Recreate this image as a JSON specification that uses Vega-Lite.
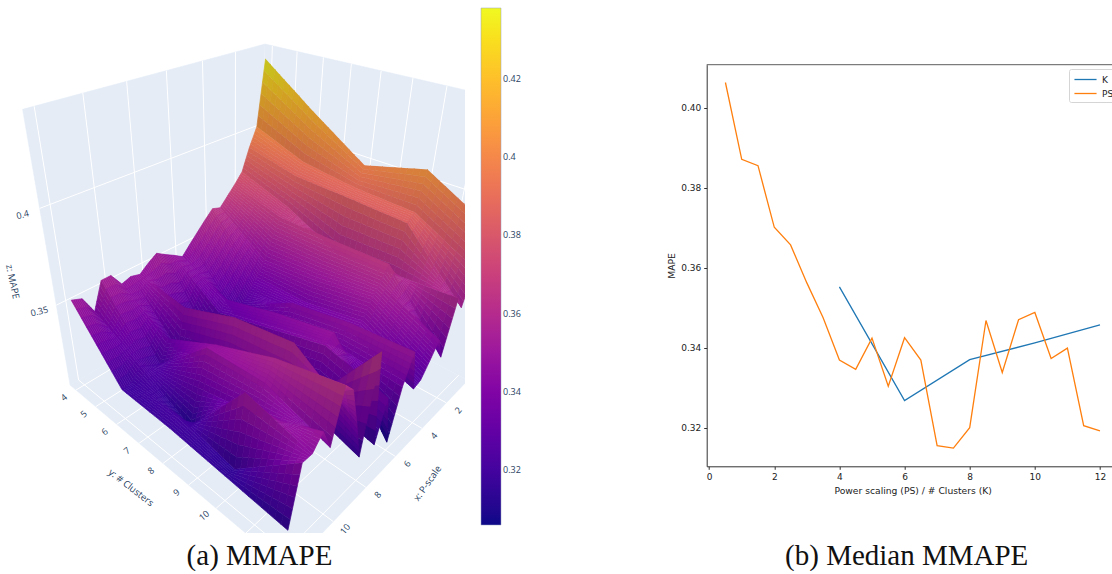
{"$schema":"https://vega.github.io/schema/vega-lite/v6.json","padding":0,"background":"white","bounds":"flush","spacing":241.7,"config":{"view":{"stroke":null}},
"datasets":{
"surface":[
{"p":0.5,"k":4,"z":0.4373},{"p":0.5,"k":6,"z":0.417},{"p":0.5,"k":8,"z":0.398},{"p":0.5,"k":10,"z":0.406},{"p":0.5,"k":12,"z":0.389},
{"p":1,"k":4,"z":0.4022},{"p":1,"k":6,"z":0.3916},{"p":1,"k":8,"z":0.3878},{"p":1,"k":10,"z":0.3865},{"p":1,"k":12,"z":0.37},
{"p":1.5,"k":4,"z":0.392},{"p":1.5,"k":6,"z":0.3855},{"p":1.5,"k":8,"z":0.3845},{"p":1.5,"k":10,"z":0.383},{"p":1.5,"k":12,"z":0.352},
{"p":2,"k":4,"z":0.3795},{"p":2,"k":6,"z":0.37},{"p":2,"k":8,"z":0.356},{"p":2,"k":10,"z":0.358},{"p":2,"k":12,"z":0.36},
{"p":2.5,"k":4,"z":0.374},{"p":2.5,"k":6,"z":0.366},{"p":2.5,"k":8,"z":0.3657},{"p":2.5,"k":10,"z":0.366},{"p":2.5,"k":12,"z":0.33},
{"p":3,"k":4,"z":0.369},{"p":3,"k":6,"z":0.356},{"p":3,"k":8,"z":0.3562},{"p":3,"k":10,"z":0.358},{"p":3,"k":12,"z":0.3433},
{"p":3.5,"k":4,"z":0.364},{"p":3.5,"k":6,"z":0.345},{"p":3.5,"k":8,"z":0.3475},{"p":3.5,"k":10,"z":0.352},{"p":3.5,"k":12,"z":0.335},
{"p":4,"k":4,"z":0.3656},{"p":4,"k":6,"z":0.337},{"p":4,"k":8,"z":0.337},{"p":4,"k":10,"z":0.343},{"p":4,"k":12,"z":0.3273},
{"p":4.5,"k":4,"z":0.361},{"p":4.5,"k":6,"z":0.331},{"p":4.5,"k":8,"z":0.3346},{"p":4.5,"k":10,"z":0.338},{"p":4.5,"k":12,"z":0.3258},
{"p":5,"k":4,"z":0.356},{"p":5,"k":6,"z":0.325},{"p":5,"k":8,"z":0.3424},{"p":5,"k":10,"z":0.348},{"p":5,"k":12,"z":0.3503},
{"p":5.5,"k":4,"z":0.351},{"p":5.5,"k":6,"z":0.322},{"p":5.5,"k":8,"z":0.3304},{"p":5.5,"k":10,"z":0.337},{"p":5.5,"k":12,"z":0.3346},
{"p":6,"k":4,"z":0.3457},{"p":6,"k":6,"z":0.334},{"p":6,"k":8,"z":0.3425},{"p":6,"k":10,"z":0.349},{"p":6,"k":12,"z":0.306},
{"p":6.5,"k":4,"z":0.349},{"p":6.5,"k":6,"z":0.329},{"p":6.5,"k":8,"z":0.3369},{"p":6.5,"k":10,"z":0.345},{"p":6.5,"k":12,"z":0.3362},
{"p":7,"k":4,"z":0.352},{"p":7,"k":6,"z":0.309},{"p":7,"k":8,"z":0.3155},{"p":7,"k":10,"z":0.321},{"p":7,"k":12,"z":0.3134},
{"p":7.5,"k":4,"z":0.3553},{"p":7.5,"k":6,"z":0.31},{"p":7.5,"k":8,"z":0.3149},{"p":7.5,"k":10,"z":0.32},{"p":7.5,"k":12,"z":0.3676},
{"p":8,"k":4,"z":0.352},{"p":8,"k":6,"z":0.318},{"p":8,"k":8,"z":0.32},{"p":8,"k":10,"z":0.326},{"p":8,"k":12,"z":0.3152},
{"p":8.5,"k":4,"z":0.348},{"p":8.5,"k":6,"z":0.344},{"p":8.5,"k":8,"z":0.3553},{"p":8.5,"k":10,"z":0.36},{"p":8.5,"k":12,"z":0.339},
{"p":9,"k":4,"z":0.3494},{"p":9,"k":6,"z":0.322},{"p":9,"k":8,"z":0.331},{"p":9,"k":10,"z":0.3338},{"p":9,"k":12,"z":0.36},
{"p":9.5,"k":4,"z":0.3477},{"p":9.5,"k":6,"z":0.332},{"p":9.5,"k":8,"z":0.347},{"p":9.5,"k":10,"z":0.359},{"p":9.5,"k":12,"z":0.366},
{"p":10,"k":4,"z":0.3554},{"p":10,"k":6,"z":0.32},{"p":10,"k":8,"z":0.3488},{"p":10,"k":10,"z":0.35},{"p":10,"k":12,"z":0.339},
{"p":10.5,"k":4,"z":0.3553},{"p":10.5,"k":6,"z":0.3225},{"p":10.5,"k":8,"z":0.33},{"p":10.5,"k":10,"z":0.3373},{"p":10.5,"k":12,"z":0.3516},
{"p":11,"k":4,"z":0.3402},{"p":11,"k":6,"z":0.326},{"p":11,"k":8,"z":0.311},{"p":11,"k":10,"z":0.3526},{"p":11,"k":12,"z":0.3449},
{"p":11.5,"k":4,"z":0.3506},{"p":11.5,"k":6,"z":0.3195},{"p":11.5,"k":8,"z":0.3215},{"p":11.5,"k":10,"z":0.315},{"p":11.5,"k":12,"z":0.345},
{"p":12,"k":4,"z":0.3527},{"p":12,"k":6,"z":0.3192},{"p":12,"k":8,"z":0.3185},{"p":12,"k":10,"z":0.316},{"p":12,"k":12,"z":0.3135}
],
"frame":[
{"kind":"wall","id":"a","o":0,"p":0.054,"k":3.69,"z":0.301},{"kind":"wall","id":"a","o":1,"p":12.446,"k":3.69,"z":0.301},{"kind":"wall","id":"a","o":2,"p":12.446,"k":3.69,"z":0.443},{"kind":"wall","id":"a","o":3,"p":0.054,"k":3.69,"z":0.443},
{"kind":"wall","id":"b","o":0,"p":0.054,"k":3.69,"z":0.301},{"kind":"wall","id":"b","o":1,"p":0.054,"k":12.31,"z":0.301},{"kind":"wall","id":"b","o":2,"p":0.054,"k":12.31,"z":0.443},{"kind":"wall","id":"b","o":3,"p":0.054,"k":3.69,"z":0.443},
{"kind":"wall","id":"c","o":0,"p":0.054,"k":3.69,"z":0.301},{"kind":"wall","id":"c","o":1,"p":12.446,"k":3.69,"z":0.301},{"kind":"wall","id":"c","o":2,"p":12.446,"k":12.31,"z":0.301},{"kind":"wall","id":"c","o":3,"p":0.054,"k":12.31,"z":0.301},
{"kind":"grid","id":"a2","o":0,"p":2,"k":3.69,"z":0.301},{"kind":"grid","id":"a2","o":1,"p":2,"k":3.69,"z":0.443},
{"kind":"grid","id":"a4","o":0,"p":4,"k":3.69,"z":0.301},{"kind":"grid","id":"a4","o":1,"p":4,"k":3.69,"z":0.443},
{"kind":"grid","id":"a6","o":0,"p":6,"k":3.69,"z":0.301},{"kind":"grid","id":"a6","o":1,"p":6,"k":3.69,"z":0.443},
{"kind":"grid","id":"a8","o":0,"p":8,"k":3.69,"z":0.301},{"kind":"grid","id":"a8","o":1,"p":8,"k":3.69,"z":0.443},
{"kind":"grid","id":"a10","o":0,"p":10,"k":3.69,"z":0.301},{"kind":"grid","id":"a10","o":1,"p":10,"k":3.69,"z":0.443},
{"kind":"grid","id":"a12","o":0,"p":12,"k":3.69,"z":0.301},{"kind":"grid","id":"a12","o":1,"p":12,"k":3.69,"z":0.443},
{"kind":"grid","id":"az1","o":0,"p":0.054,"k":3.69,"z":0.35},{"kind":"grid","id":"az1","o":1,"p":12.446,"k":3.69,"z":0.35},
{"kind":"grid","id":"az2","o":0,"p":0.054,"k":3.69,"z":0.4},{"kind":"grid","id":"az2","o":1,"p":12.446,"k":3.69,"z":0.4},
{"kind":"grid","id":"b4","o":0,"p":0.054,"k":4,"z":0.301},{"kind":"grid","id":"b4","o":1,"p":0.054,"k":4,"z":0.443},
{"kind":"grid","id":"b5","o":0,"p":0.054,"k":5,"z":0.301},{"kind":"grid","id":"b5","o":1,"p":0.054,"k":5,"z":0.443},
{"kind":"grid","id":"b6","o":0,"p":0.054,"k":6,"z":0.301},{"kind":"grid","id":"b6","o":1,"p":0.054,"k":6,"z":0.443},
{"kind":"grid","id":"b7","o":0,"p":0.054,"k":7,"z":0.301},{"kind":"grid","id":"b7","o":1,"p":0.054,"k":7,"z":0.443},
{"kind":"grid","id":"b8","o":0,"p":0.054,"k":8,"z":0.301},{"kind":"grid","id":"b8","o":1,"p":0.054,"k":8,"z":0.443},
{"kind":"grid","id":"b9","o":0,"p":0.054,"k":9,"z":0.301},{"kind":"grid","id":"b9","o":1,"p":0.054,"k":9,"z":0.443},
{"kind":"grid","id":"b10","o":0,"p":0.054,"k":10,"z":0.301},{"kind":"grid","id":"b10","o":1,"p":0.054,"k":10,"z":0.443},
{"kind":"grid","id":"b11","o":0,"p":0.054,"k":11,"z":0.301},{"kind":"grid","id":"b11","o":1,"p":0.054,"k":11,"z":0.443},
{"kind":"grid","id":"bz1","o":0,"p":0.054,"k":3.69,"z":0.35},{"kind":"grid","id":"bz1","o":1,"p":0.054,"k":12.31,"z":0.35},
{"kind":"grid","id":"bz2","o":0,"p":0.054,"k":3.69,"z":0.4},{"kind":"grid","id":"bz2","o":1,"p":0.054,"k":12.31,"z":0.4},
{"kind":"grid","id":"c2","o":0,"p":2,"k":3.69,"z":0.301},{"kind":"grid","id":"c2","o":1,"p":2,"k":12.31,"z":0.301},
{"kind":"grid","id":"c4","o":0,"p":4,"k":3.69,"z":0.301},{"kind":"grid","id":"c4","o":1,"p":4,"k":12.31,"z":0.301},
{"kind":"grid","id":"c6","o":0,"p":6,"k":3.69,"z":0.301},{"kind":"grid","id":"c6","o":1,"p":6,"k":12.31,"z":0.301},
{"kind":"grid","id":"c8","o":0,"p":8,"k":3.69,"z":0.301},{"kind":"grid","id":"c8","o":1,"p":8,"k":12.31,"z":0.301},
{"kind":"grid","id":"c10","o":0,"p":10,"k":3.69,"z":0.301},{"kind":"grid","id":"c10","o":1,"p":10,"k":12.31,"z":0.301},
{"kind":"grid","id":"c12","o":0,"p":12,"k":3.69,"z":0.301},{"kind":"grid","id":"c12","o":1,"p":12,"k":12.31,"z":0.301},
{"kind":"grid","id":"d4","o":0,"p":0.054,"k":4,"z":0.301},{"kind":"grid","id":"d4","o":1,"p":12.446,"k":4,"z":0.301},
{"kind":"grid","id":"d5","o":0,"p":0.054,"k":5,"z":0.301},{"kind":"grid","id":"d5","o":1,"p":12.446,"k":5,"z":0.301},
{"kind":"grid","id":"d6","o":0,"p":0.054,"k":6,"z":0.301},{"kind":"grid","id":"d6","o":1,"p":12.446,"k":6,"z":0.301},
{"kind":"grid","id":"d7","o":0,"p":0.054,"k":7,"z":0.301},{"kind":"grid","id":"d7","o":1,"p":12.446,"k":7,"z":0.301},
{"kind":"grid","id":"d8","o":0,"p":0.054,"k":8,"z":0.301},{"kind":"grid","id":"d8","o":1,"p":12.446,"k":8,"z":0.301},
{"kind":"grid","id":"d9","o":0,"p":0.054,"k":9,"z":0.301},{"kind":"grid","id":"d9","o":1,"p":12.446,"k":9,"z":0.301},
{"kind":"grid","id":"d10","o":0,"p":0.054,"k":10,"z":0.301},{"kind":"grid","id":"d10","o":1,"p":12.446,"k":10,"z":0.301},
{"kind":"grid","id":"d11","o":0,"p":0.054,"k":11,"z":0.301},{"kind":"grid","id":"d11","o":1,"p":12.446,"k":11,"z":0.301},
{"kind":"grid","id":"d12","o":0,"p":0.054,"k":12,"z":0.301},{"kind":"grid","id":"d12","o":1,"p":12.446,"k":12,"z":0.301},
{"kind":"ztick","label":"0.35","p":12.446,"k":3.69,"z":0.35},{"kind":"ztick","label":"0.4","p":12.446,"k":3.69,"z":0.4},
{"kind":"ktick","label":"4","p":12.446,"k":4,"z":0.301},{"kind":"ktick","label":"5","p":12.446,"k":5,"z":0.301},{"kind":"ktick","label":"6","p":12.446,"k":6,"z":0.301},{"kind":"ktick","label":"7","p":12.446,"k":7,"z":0.301},{"kind":"ktick","label":"8","p":12.446,"k":8,"z":0.301},{"kind":"ktick","label":"9","p":12.446,"k":9,"z":0.301},{"kind":"ktick","label":"10","p":12.446,"k":10,"z":0.301},
{"kind":"ptick","label":"2","p":2,"k":12.31,"z":0.301},{"kind":"ptick","label":"4","p":4,"k":12.31,"z":0.301},{"kind":"ptick","label":"6","p":6,"k":12.31,"z":0.301},{"kind":"ptick","label":"8","p":8,"k":12.31,"z":0.301},{"kind":"ptick","label":"10","p":10,"k":12.31,"z":0.301},
{"kind":"ztitle","label":"z: MAPE","p":12.446,"k":3.69,"z":0.35},
{"kind":"ytitle","label":"y: # Clusters","p":12.446,"k":7,"z":0.301},
{"kind":"xtitle","label":"x: P-scale","p":7,"k":12.31,"z":0.301}
],
"medians":[
{"v":4,"mape":0.3552,"series":"K"},{"v":6,"mape":0.3268,"series":"K"},{"v":8,"mape":0.337,"series":"K"},{"v":10,"mape":0.3412,"series":"K"},{"v":12,"mape":0.3457,"series":"K"},
{"v":0.5,"mape":0.4063,"series":"PS"},{"v":1,"mape":0.3871,"series":"PS"},{"v":1.5,"mape":0.3855,"series":"PS"},{"v":2,"mape":0.3701,"series":"PS"},{"v":2.5,"mape":0.3657,"series":"PS"},{"v":3,"mape":0.3562,"series":"PS"},{"v":3.5,"mape":0.3475,"series":"PS"},{"v":4,"mape":0.3369,"series":"PS"},{"v":4.5,"mape":0.3346,"series":"PS"},{"v":5,"mape":0.3424,"series":"PS"},{"v":5.5,"mape":0.3304,"series":"PS"},{"v":6,"mape":0.3425,"series":"PS"},{"v":6.5,"mape":0.3369,"series":"PS"},{"v":7,"mape":0.3155,"series":"PS"},{"v":7.5,"mape":0.3149,"series":"PS"},{"v":8,"mape":0.32,"series":"PS"},{"v":8.5,"mape":0.3468,"series":"PS"},{"v":9,"mape":0.3338,"series":"PS"},{"v":9.5,"mape":0.347,"series":"PS"},{"v":10,"mape":0.3488,"series":"PS"},{"v":10.5,"mape":0.3373,"series":"PS"},{"v":11,"mape":0.3399,"series":"PS"},{"v":11.5,"mape":0.3205,"series":"PS"},{"v":12,"mape":0.3192,"series":"PS"}
],
"top":[{"mape":0.41075}]
},
"hconcat":[
{"width":465,"height":533,
"title":{"text":"(a) MMAPE","orient":"bottom","anchor":"middle","dx":27,"offset":9,"font":"Liberation Serif","fontSize":29,"fontWeight":"normal","color":"#111111"},
"data":{"name":"frame"},
"transform":[
{"calculate":"0.0807*datum.p-0.00435","as":"u"},{"calculate":"0.116*datum.k-0.428","as":"v"},{"calculate":"(datum.z-0.301)/0.142","as":"w"},
{"calculate":"1-0.2108*datum.u-0.2032*datum.v-0.178*datum.w","as":"d"},
{"calculate":"(259.3-204*datum.u+113.6*datum.v-41.5*datum.w)/datum.d","as":"px"},
{"calculate":"(273.3+30.6*datum.u+29.5*datum.v-237.1*datum.w)/datum.d","as":"py"}],
"encoding":{
"x":{"field":"px","type":"quantitative","scale":{"domain":[0,465],"nice":false,"zero":false},"axis":null},
"y":{"field":"py","type":"quantitative","scale":{"domain":[533,0],"nice":false,"zero":false},"axis":null}},
"layer":[
{"transform":[{"filter":"datum.kind==='wall'"}],"mark":{"type":"line","filled":true,"clip":true,"fill":"#E5ECF6","stroke":"#E5ECF6","strokeWidth":0.5},"encoding":{"detail":{"field":"id"},"order":{"field":"o","type":"quantitative"}}},
{"transform":[{"filter":"datum.kind==='grid'"}],"mark":{"type":"line","clip":true,"stroke":"#ffffff","strokeWidth":1},"encoding":{"detail":{"field":"id"},"order":{"field":"o","type":"quantitative"}}},
{"data":{"name":"surface"},
"transform":[
{"calculate":"(datum.p-0.5)*2","as":"i"},{"calculate":"(datum.k-4)/2","as":"j"},
{"calculate":"[0,1,2,3]","as":"corner"},{"flatten":["corner"]},
{"calculate":"datum.i-((datum.corner==1||datum.corner==2)?1:0)","as":"qi"},
{"calculate":"datum.j-(datum.corner>=2?1:0)","as":"qj"},
{"filter":"datum.qi>=0&&datum.qi<23&&datum.qj>=0&&datum.qj<4"},
{"pivot":"corner","value":"z","groupby":["qi","qj"]},
{"calculate":"[0,1,2,3,4,5]","as":"ss"},{"flatten":["ss"]},
{"calculate":"[0,1,2,3,4,5,6,7,8,9]","as":"tt"},{"flatten":["tt"]},
{"calculate":"(datum.ss+0.5)/6","as":"sm"},{"calculate":"(datum.tt+0.5)/10","as":"tm"},
{"calculate":"(1-datum.sm)*(1-datum.tm)*datum['0']+datum.sm*(1-datum.tm)*datum['1']+datum.sm*datum.tm*datum['2']+(1-datum.sm)*datum.tm*datum['3']","as":"zc"},
{"calculate":"((1-datum.tm)*(datum['1']-datum['0'])+datum.tm*(datum['2']-datum['3']))/0.142/0.04035","as":"wu"},
{"calculate":"((1-datum.sm)*(datum['3']-datum['0'])+datum.sm*(datum['2']-datum['1']))/0.142/0.232","as":"wv"},
{"calculate":"0.74+0.26/sqrt(1+datum.wu*datum.wu/4+datum.wv*datum.wv/4)","as":"sh"},
{"calculate":"clamp((datum.zc-0.306)/0.132,0,0.9999)*9","as":"ct"},
{"calculate":"floor(datum.ct)","as":"ci"},{"calculate":"datum.ct-datum.ci","as":"cf"},
{"calculate":"'rgb('+round(datum.sh*([13,70,114,156,189,216,237,251,253,240][datum.ci]*(1-datum.cf)+[13,70,114,156,189,216,237,251,253,240][datum.ci+1]*datum.cf))+','+round(datum.sh*([8,3,1,23,55,87,121,159,202,249][datum.ci]*(1-datum.cf)+[8,3,1,23,55,87,121,159,202,249][datum.ci+1]*datum.cf))+','+round(datum.sh*([135,159,168,158,134,107,83,58,38,33][datum.ci]*(1-datum.cf)+[135,159,168,158,134,107,83,58,38,33][datum.ci+1]*datum.cf))+')'","as":"col"},
{"calculate":"'q'+datum.qi+'_'+datum.qj+'_'+datum.ss+'_'+datum.tt","as":"id"},
{"calculate":"[0,1,2,3]","as":"cc"},{"flatten":["cc"]},
{"calculate":"(datum.ss+((datum.cc==1||datum.cc==2)?1:0))/6","as":"s"},
{"calculate":"(datum.tt+(datum.cc>=2?1:0))/10","as":"t"},
{"calculate":"(1-datum.s)*(1-datum.t)*datum['0']+datum.s*(1-datum.t)*datum['1']+datum.s*datum.t*datum['2']+(1-datum.s)*datum.t*datum['3']","as":"zv"},
{"calculate":"0.0807*(0.5+(datum.qi+datum.s)*0.5)-0.00435","as":"u"},
{"calculate":"0.116*(4+(datum.qj+datum.t)*2)-0.428","as":"v"},
{"calculate":"(datum.zv-0.301)/0.142","as":"w"},
{"calculate":"1-0.2108*datum.u-0.2032*datum.v-0.178*datum.w","as":"d"},
{"calculate":"(259.3-204*datum.u+113.6*datum.v-41.5*datum.w)/datum.d","as":"px"},
{"calculate":"(273.3+30.6*datum.u+29.5*datum.v-237.1*datum.w)/datum.d","as":"py"}],
"mark":{"type":"line","filled":true,"clip":true,"strokeWidth":0.7},
"encoding":{"detail":{"field":"id"},"order":{"field":"cc","type":"quantitative"},
"fill":{"field":"col","type":"nominal","scale":null,"legend":null},
"stroke":{"field":"col","type":"nominal","scale":null,"legend":null}}},
{"data":{"name":"surface"},"mark":{"type":"point","filled":true,"opacity":0,"size":1},
"encoding":{"x":{"datum":10},"y":{"datum":10},
"fill":{"field":"z","type":"quantitative","scale":{"domain":[0.306,0.438],"range":["#0d0887","#46039f","#7201a8","#9c179e","#bd3786","#d8576b","#ed7953","#fb9f3a","#fdca26","#f0f921"]},
"legend":{"type":"gradient","orient":"none","legendX":481,"legendY":8,"gradientLength":517,"gradientThickness":20,"gradientOpacity":1,"title":null,"values":[0.32,0.34,0.36,0.38,0.4,0.42],"labelExpr":"format(datum.value,'.2~f')","labelFont":"Open Sans","labelFontSize":9,"labelColor":"#2a3f5f","labelOverlap":false,"gradientStrokeColor":"#9aa0c0","gradientStrokeWidth":0.5}}}},
{"transform":[{"filter":"datum.kind==='ztick'"}],"mark":{"type":"text","font":"Open Sans","fontSize":9,"color":"#2a3f5f","angle":346,"dx":-18,"dy":2},"encoding":{"text":{"field":"label"}}},
{"transform":[{"filter":"datum.kind==='ktick'"}],"mark":{"type":"text","font":"Open Sans","fontSize":9,"color":"#2a3f5f","angle":320,"dx":-14,"dy":-2},"encoding":{"text":{"field":"label"}}},
{"transform":[{"filter":"datum.kind==='ptick'"}],"mark":{"type":"text","clip":true,"font":"Open Sans","fontSize":9,"color":"#2a3f5f","angle":310,"dx":2,"dy":14},"encoding":{"text":{"field":"label"}}},
{"transform":[{"filter":"datum.kind==='ztitle'"}],"mark":{"type":"text","font":"Open Sans","fontSize":9.5,"color":"#2a3f5f","angle":78,"dx":-32,"dy":38},"encoding":{"text":{"field":"label"}}},
{"transform":[{"filter":"datum.kind==='ytitle'"}],"mark":{"type":"text","font":"Open Sans","fontSize":9.5,"color":"#2a3f5f","angle":38,"dx":21,"dy":40},"encoding":{"text":{"field":"label"}}},
{"transform":[{"filter":"datum.kind==='xtitle'"}],"mark":{"type":"text","font":"Open Sans","fontSize":9.5,"color":"#2a3f5f","angle":305,"dx":17,"dy":45},"encoding":{"text":{"field":"label"}}}
],
"resolve":{"scale":{"fill":"independent","stroke":"independent"}}},
{"width":412,"height":533,
"title":{"text":"(b) Median MMAPE","orient":"bottom","anchor":"middle","dx":-6,"offset":9,"font":"Liberation Serif","fontSize":29,"fontWeight":"normal","color":"#111111"},
"layer":[
{"data":{"name":"top"},"mark":{"type":"rule","color":"#333333","strokeWidth":0.8},"encoding":{"y":{"field":"mape","type":"quantitative"}}},
{"data":{"name":"medians"},"mark":{"type":"line","strokeWidth":1.3},
"encoding":{
"x":{"field":"v","type":"quantitative","scale":{"domain":[-0.075,12.575],"nice":false,"zero":false},
"axis":{"values":[0,2,4,6,8,10,12],"title":"Power scaling (PS) / # Clusters (K)","offset":-66.7,"grid":false,"domainColor":"#333333","tickColor":"#333333","tickSize":3,"labelColor":"#222222","titleColor":"#222222","labelFont":"DejaVu Sans","labelFontSize":9,"titleFont":"DejaVu Sans","titleFontSize":9.2,"titleFontWeight":"normal","labelPadding":3,"titlePadding":5}},
"y":{"field":"mape","type":"quantitative","scale":{"domain":[0.31035,0.41075],"range":[466.3,64.7],"nice":false,"zero":false},
"axis":{"values":[0.32,0.34,0.36,0.38,0.4],"format":".2f","title":"MAPE","grid":false,"domainColor":"#333333","tickColor":"#333333","tickSize":3,"labelColor":"#222222","titleColor":"#222222","labelFont":"DejaVu Sans","labelFontSize":9,"titleFont":"DejaVu Sans","titleFontSize":9.2,"titleFontWeight":"normal","labelPadding":3,"titlePadding":4}},
"color":{"field":"series","type":"nominal","scale":{"domain":["K","PS"],"range":["#1f77b4","#ff7f0e"]},
"legend":{"orient":"none","legendX":1069,"legendY":69,"title":null,"fillColor":"white","strokeColor":"#d5d5d5","cornerRadius":2,"padding":3,"symbolType":"M-1.7,0H1.7","symbolSize":169,"symbolStrokeWidth":1.3,"labelOffset":9,"labelFont":"DejaVu Sans","labelFontSize":9,"labelColor":"#222222","rowPadding":1,"symbolOffset":6}}}}
],
"resolve":{"scale":{"y":"shared"}}}
]}
